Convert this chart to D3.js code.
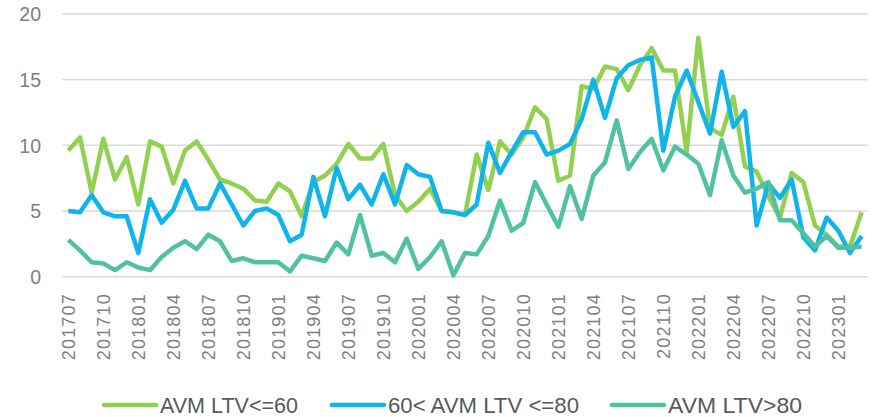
<!DOCTYPE html>
<html>
<head>
<meta charset="utf-8">
<script src="https://cdn.jsdelivr.net/npm/d3@7"></script>
<style>
  body { margin: 0; background: #fff; }
  svg { display: block; }
</style>
</head>
<body>
<div id="chart"></div>
<script>
// monthly categories 201707 .. 202303
let months = [];
for (let y = 2017; y <= 2023; y++) {
  for (let m = 1; m <= 12; m++) {
    let key = y * 100 + m;
    if (key >= 201707 && key <= 202303) months.push(String(key));
  }
}

// series values
let ltv60 = [9.6, 10.6, 6.4, 10.5, 7.4, 9.1, 5.5, 10.3, 9.9, 7.1, 9.6, 10.3, 8.9, 7.4, 7.1, 6.7, 5.8, 5.7, 7.1, 6.5,
  4.6, 7.2, 7.7, 8.6, 10.1, 9.0, 9.0, 10.1, 6.2, 5.0, 5.7, 6.7, 5.0, 4.9, 4.7, 9.3, 6.6, 10.3, 9.3, 10.6,
  12.9, 12.0, 7.3, 7.7, 14.5, 14.3, 16.0, 15.8, 14.2, 16.1, 17.4, 15.7, 15.7, 9.5, 18.2, 11.3, 10.8, 13.7, 8.4, 8.0,
  6.1, 4.5, 7.9, 7.2, 3.9, 3.2, 2.3, 2.3, 4.9];
let ltv60to80 = [5.0, 4.9, 6.2, 4.9, 4.6, 4.6, 1.8, 5.9, 4.1, 5.1, 7.3, 5.2, 5.2, 7.1, 5.5, 3.9, 5.0, 5.2, 4.7, 2.7,
  3.2, 7.6, 4.6, 8.3, 5.9, 7.0, 5.5, 7.8, 5.5, 8.5, 7.8, 7.6, 5.0, 4.9, 4.7, 5.5, 10.2, 7.9, 9.5, 11.0,
  11.0, 9.3, 9.6, 10.1, 12.0, 15.0, 12.1, 15.1, 16.1, 16.5, 16.7, 9.6, 13.7, 15.7, 13.3, 10.9, 15.6, 11.4, 12.6, 3.9,
  7.1, 6.0, 7.4, 3.0, 2.0, 4.5, 3.5, 1.8, 3.1];
let ltv80 = [2.8, 2.0, 1.1, 1.0, 0.5, 1.1, 0.7, 0.5, 1.5, 2.2, 2.7, 2.1, 3.2, 2.7, 1.2, 1.4, 1.1, 1.1, 1.1, 0.4,
  1.6, 1.4, 1.2, 2.6, 1.7, 4.7, 1.6, 1.8, 1.1, 2.9, 0.6, 1.5, 2.7, 0.1, 1.8, 1.7, 3.1, 5.8, 3.5, 4.1,
  7.2, 5.5, 3.8, 6.9, 4.4, 7.7, 8.7, 11.9, 8.2, 9.5, 10.5, 8.1, 9.9, 9.3, 8.6, 6.2, 10.4, 7.7, 6.4, 6.7,
  7.2, 4.3, 4.3, 3.3, 2.3, 3.1, 2.2, 2.2, 2.3];

let yTicks = [0, 5, 10, 15, 20];
let seriesNames = ["AVM LTV<=60", "60< AVM LTV <=80", "AVM LTV>80"];
let seriesColors = ["#92d050", "#10b4ed", "#52c1a3"];

let width = 877;
let height = 417;

let svg = d3.select("#chart")
  .append("svg")
  .attr("width", width)
  .attr("height", height);

// scales
let xScale = d3.scaleBand()
  .domain(months)
  .range([62.5, 867.5]);

let yScale = d3.scaleLinear()
  .domain([0, 20])
  .range([276.7, 14]);

function xPos(d) {
  return xScale(d) + xScale.bandwidth() / 2;
}

// gridlines
svg.append("g")
  .selectAll("line")
  .data(yTicks)
  .enter()
  .append("line")
  .attr("x1", 62.5)
  .attr("x2", 867.5)
  .attr("y1", d => yScale(d))
  .attr("y2", d => yScale(d))
  .attr("stroke", "#d9d9d9")
  .attr("stroke-width", 1.5);

// y axis labels
let yAxis = d3.axisLeft(yScale).tickValues(yTicks).tickSize(0).tickPadding(0);
let yG = svg.append("g")
  .attr("transform", "translate(41,0)")
  .call(yAxis);
yG.select(".domain").remove();
yG.selectAll("text")
  .attr("fill", "#808080")
  .attr("font-family", "'Liberation Sans', Arial, sans-serif")
  .attr("font-size", 19.5)
  .attr("dy", "0.35em");

// x axis labels, every third month
let xAxis = d3.axisBottom(xScale)
  .tickValues(months.filter((d, i) => i % 3 === 0))
  .tickSize(0);
let xG = svg.append("g")
  .attr("transform", "translate(0,293)")
  .call(xAxis);
xG.select(".domain").remove();
xG.selectAll("text")
  .attr("fill", "#808080")
  .attr("font-family", "'Liberation Sans', Arial, sans-serif")
  .attr("font-size", 18)
  .attr("letter-spacing", 1.2)
  .attr("text-anchor", "end")
  .attr("transform", "rotate(-90)")
  .attr("x", 0)
  .attr("y", 0)
  .attr("dy", "0.35em");

// lines
let line = d3.line()
  .x((d, i) => xPos(months[i]))
  .y(d => yScale(d));

[ltv60, ltv60to80, ltv80].forEach(function(values, k) {
  svg.append("path")
    .datum(values)
    .attr("fill", "none")
    .attr("stroke", seriesColors[k])
    .attr("stroke-width", 4.5)
    .attr("stroke-linejoin", "round")
    .attr("d", line);
});

// legend
let legendItems = [
  { x: 104, tx: 160, tw: 138 },
  { x: 332, tx: 388, tw: 191 },
  { x: 612, tx: 668, tw: 134 }
];
let legend = svg.append("g").attr("class", "legend");
legendItems.forEach(function(item, k) {
  legend.append("line")
    .attr("x1", item.x)
    .attr("x2", item.x + 52)
    .attr("y1", 405)
    .attr("y2", 405)
    .attr("stroke", seriesColors[k])
    .attr("stroke-width", 4.5)
    .attr("stroke-linecap", "round");
  legend.append("text")
    .attr("x", item.tx)
    .attr("y", 405)
    .attr("dy", "0.36em")
    .attr("fill", "#595959")
    .attr("font-family", "'Liberation Sans Narrow', 'Liberation Sans', Arial, sans-serif")
    .attr("font-size", 22)
    .attr("textLength", item.tw)
    .attr("lengthAdjust", "spacingAndGlyphs")
    .text(seriesNames[k]);
});
</script>
</body>
</html>
